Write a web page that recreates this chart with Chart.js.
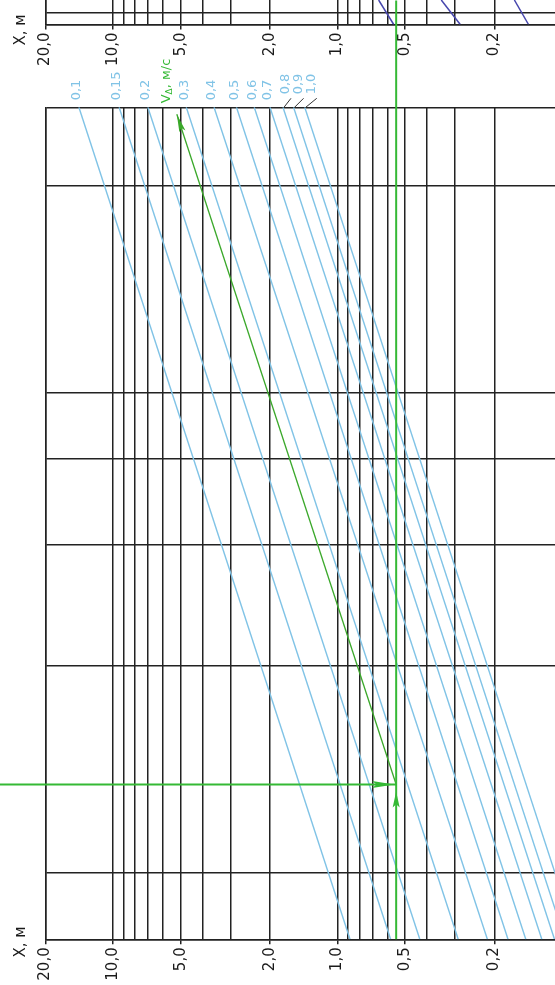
<!DOCTYPE html>
<html>
<head>
<meta charset="utf-8">
<script src="https://cdn.jsdelivr.net/npm/chart.js@4.4.1/dist/chart.umd.min.js"></script>
<style>
  html, body { margin: 0; padding: 0; background: #fff; overflow: hidden; width: 555px; height: 985px; }
  canvas { position: absolute; left: 0; top: 0; }
</style>
</head>
<body>
<canvas id="topStrip" width="562" height="107"></canvas>
<canvas id="nomo" width="562" height="985"></canvas>
<script>
// X, м axis (log, reversed): grid values and the labelled ones
const xGrid = [20, 10, 9, 8, 7, 6, 5, 4, 3, 2, 1, 0.9, 0.8, 0.7, 0.6, 0.5, 0.4, 0.3, 0.2, 0.1];
const xLabels = { 20: '20,0', 10: '10,0', 5: '5,0', 2: '2,0', 1: '1,0', 0.5: '0,5', 0.2: '0,2' };
// second (unlabelled) axis - horizontal lines
const yGrid = [0.8, 1, 2, 3, 4, 5, 10, 13];

// V, м/с lines: X read where each line meets the top edge (y=13) and the bottom edge (y=0.8)
const vNames = ['0,1', '0,15', '0,2', '0,3', '0,4', '0,5', '0,6', '0,7', '0,8', '0,9', '1,0'];
const vTopX = [14.2, 9.4, 7.0, 4.72, 3.55, 2.82, 2.35, 2.0, 1.75, 1.57, 1.4];
const vBottomX = [0.88, 0.58, 0.43, 0.29, 0.215, 0.174, 0.145, 0.123, 0.108, 0.097, 0.086];

// worked example (green)
const exY = 1.344;          // horizontal line
const exX = 0.548;          // vertical line
const exTop = { x: 5.2, y: 12.7 };
const exLeftX = 32;         // horizontal line comes in from the left, past the frame
const exTopY = 18.6;        // vertical line runs up past the frame

// cut-off strip above: dark blue lines (X at top, X at bottom)
const stripLinesX = [[0.656, 0.562], [0.345, 0.284], [0.163, 0.141]];

const FONT = '"DejaVu Sans", "Liberation Sans", sans-serif';
const GRID = '#222';
const BLUE = '#80c3e6';
const GREEN = '#35b935';

function xAxis(heightFit) {
  return {
    type: 'logarithmic',
    reverse: true,
    min: 0.1,
    max: 20,
    afterBuildTicks: s => { s.ticks = xGrid.map(v => ({ value: v })); },
    afterFit: s => { s.height = heightFit; s.paddingLeft = 0; s.paddingRight = 0; },
    ticks: {
      autoSkip: false,
      minRotation: 90,
      maxRotation: 90,
      padding: 3,
      color: '#1a1a1a',
      font: { family: FONT, size: 15 },
      callback: v => xLabels[v] || ''
    },
    grid: {
      color: GRID,
      lineWidth: 1.5,
      tickLength: 5,
      tickColor: c => (c.tick && xLabels[c.tick.value]) ? GRID : 'rgba(0,0,0,0)'
    },
    border: { color: GRID, width: 1.5 }
  };
}

function vText(ctx, str, cx, y0, align, size, color) {
  ctx.save();
  ctx.translate(cx, y0);
  ctx.rotate(-Math.PI / 2);
  ctx.font = size + 'px ' + FONT;
  ctx.fillStyle = color;
  ctx.textAlign = align;
  ctx.textBaseline = 'middle';
  ctx.fillText(str, 0, 0);
  ctx.restore();
}

function arrowHead(ctx, tx, ty, ang, len, half, color) {
  ctx.save();
  ctx.translate(tx, ty);
  ctx.rotate(ang);
  ctx.beginPath();
  ctx.moveTo(0, 0);
  ctx.lineTo(-len, -half);
  ctx.lineTo(-len * 0.8, 0);
  ctx.lineTo(-len, half);
  ctx.closePath();
  ctx.fillStyle = color;
  ctx.fill();
  ctx.restore();
}

const overlay = {
  id: 'overlay',
  afterDatasetsDraw(chart) {
    const { ctx, chartArea, scales: { x, y } } = chart;
    const top = chartArea.top;

    // V labels above the frame
    vNames.forEach((name, i) => {
      const lx = x.getPixelForValue(vTopX[i]);
      if (i < 8) {
        vText(ctx, name, lx - 2, top - 7, 'left', 13, BLUE);
      } else {
        const off = [3, 5, 7][i - 8];
        vText(ctx, name, lx + off, top - 13, 'left', 13, BLUE);
        ctx.save();
        ctx.strokeStyle = '#333';
        ctx.lineWidth = 1;
        ctx.beginPath();
        ctx.moveTo(lx + 1, top);
        ctx.lineTo(lx + off + 5, top - 9);
        ctx.stroke();
        ctx.restore();
      }
    });

    // V_Δ, м/с
    const gx = x.getPixelForValue(exTop.x) - 10;
    ctx.save();
    ctx.translate(gx, top - 4);
    ctx.rotate(-Math.PI / 2);
    ctx.fillStyle = GREEN;
    ctx.textBaseline = 'middle';
    ctx.textAlign = 'left';
    ctx.font = '13px ' + FONT;
    ctx.fillText('V', 0, 0);
    let w = ctx.measureText('V').width;
    ctx.font = '9px ' + FONT;
    ctx.fillText('Δ', w, 3);
    w += ctx.measureText('Δ').width;
    ctx.font = '13px ' + FONT;
    ctx.fillText(', м/с', w, 0);
    ctx.restore();

    // arrows of the worked example
    const px = x.getPixelForValue(exX);
    const py = y.getPixelForValue(exY);
    arrowHead(ctx, px - 2, py, 0, 22, 3.5, GREEN);
    arrowHead(ctx, px, py + 7, -Math.PI / 2, 16, 3.5, GREEN);
    const tx = x.getPixelForValue(exTop.x), ty = y.getPixelForValue(exTop.y);
    arrowHead(ctx, tx, ty, Math.atan2(ty - py, tx - px), 18, 3.2, '#3aa82a');

    // axis names
    vText(ctx, 'X, м', 21, 30, 'center', 15, '#1a1a1a');
    vText(ctx, 'X, м', 21, 942, 'center', 15, '#1a1a1a');
  }
};

const blueSets = vNames.map((n, i) => ({
  label: 'V = ' + n,
  data: [{ x: vTopX[i], y: 13 }, { x: vBottomX[i], y: 0.8 }],
  borderColor: BLUE,
  borderWidth: 1.4
}));

new Chart(document.getElementById('nomo'), {
  type: 'line',
  data: {
    datasets: [
      {
        label: 'vertical',
        data: [{ x: exX, y: 0.8 }, { x: exX, y: exTopY }],
        borderColor: GREEN,
        borderWidth: 2,
        clip: false
      },
      {
        label: 'horizontal',
        data: [{ x: exLeftX, y: exY }, { x: exX, y: exY }],
        borderColor: GREEN,
        borderWidth: 2,
        clip: false
      },
      {
        label: 'diagonal',
        data: [{ x: exX, y: exY }, exTop],
        borderColor: '#3aa82a',
        borderWidth: 1.3
      },
      ...blueSets
    ]
  },
  options: {
    responsive: false,
    animation: false,
    parsing: true,
    elements: { point: { radius: 0 }, line: { tension: 0 } },
    layout: { padding: { top: 107.3, left: 45.5, right: 0, bottom: 0 } },
    plugins: { legend: { display: false }, tooltip: { enabled: false } },
    scales: {
      x: xAxis(45.7),
      y: {
        type: 'logarithmic',
        min: 0.8,
        max: 13,
        afterBuildTicks: s => { s.ticks = yGrid.map(v => ({ value: v })); },
        afterFit: s => { s.width = 0; },
        ticks: { display: false },
        grid: { color: GRID, lineWidth: 1.5, drawTicks: false },
        border: { color: GRID, width: 1.5 }
      }
    }
  },
  plugins: [overlay]
});

// strip of the next chart, cut off at the top of the picture
new Chart(document.getElementById('topStrip'), {
  type: 'line',
  data: {
    datasets: stripLinesX.map((p, i) => ({
      label: 'strip ' + i,
      data: [{ x: p[0], y: 2.05 }, { x: p[1], y: 0 }],
      borderColor: '#4646ad',
      borderWidth: 1.5
    }))
  },
  options: {
    responsive: false,
    animation: false,
    elements: { point: { radius: 0 } },
    layout: { padding: { top: 0, left: 45.5, right: 0, bottom: 0 } },
    plugins: { legend: { display: false }, tooltip: { enabled: false } },
    scales: {
      x: xAxis(82.5),
      y: {
        type: 'linear',
        min: 0,
        max: 2.05,
        afterBuildTicks: s => { s.ticks = [{ value: 0 }, { value: 1 }]; },
        afterFit: s => { s.width = 0; },
        ticks: { display: false },
        grid: { color: GRID, lineWidth: 1.5, drawTicks: false },
        border: { color: GRID, width: 1.5 }
      }
    }
  }
});
</script>
</body>
</html>
